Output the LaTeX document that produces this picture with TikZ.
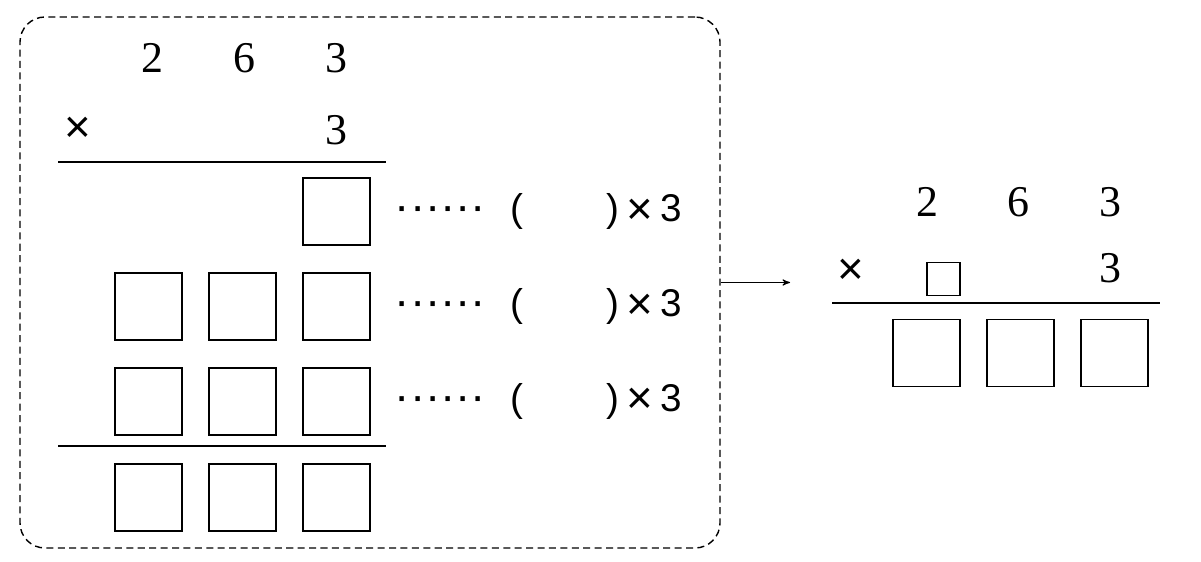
\documentclass[tikz,border=0pt]{standalone}
\usepackage{fontspec}
\setmainfont{Liberation Serif}
\setsansfont{Liberation Sans}
\usetikzlibrary{arrows,positioning}
\tikzset{cell/.style={rectangle,draw=black,line width=1.1pt,minimum size=13.4mm,inner sep=0pt},
		smallcell/.style={rectangle,draw=black,line width=1.1pt,minimum size=6.6mm,inner sep=0pt},
		digit/.style={inner sep=0pt,font=\fontsize{25}{25}\selectfont},
		sign/.style={inner sep=0pt,font=\sffamily\fontsize{22}{22}\selectfont},
		post/.style={->,shorten <=0pt,>=stealth',semithick}}
\newcommand{\mtimes}{\raisebox{-1.5pt}{\fontsize{26}{26}\selectfont ×}}
\newcommand{\sixdots}{\vphantom{(}\makebox[17.7mm][s]{\fontsize{26}{26}\selectfont·\hfill·\hfill·\hfill·\hfill·\hfill·}}

\begin{document}
\begin{tikzpicture}[node distance=5.2mm and 5mm,
		frame/.style={rectangle,draw=black,line width=0.8pt,dash pattern=on 4pt off 2.5pt,rounded corners=5mm,minimum width=140mm,minimum height=106.2mm,inner sep=0pt},
		rule/.style={line width=1pt}]
	\useasboundingbox (0,0) rectangle (24.02,11.24);
	\node[frame] (frame) at (7.4,5.59) {};
	
	% factors
	\node[digit] (top-2) at (3.05,10.08) {2};
	\node[digit] (top-6) at (4.89,10.08) {6};
	\node[digit] (top-3) at (6.73,10.08) {3};
	\node[sign] (times) at (1.55,8.64) {\mtimes};
	\node[digit] (factor-3) at (6.73,8.64) {3};
	\draw[rule] (1.16,8.0) -- (7.72,8.0);
	
	% partial products
	\node[cell] (r1c3) at (6.73,7.01) {};
	\node[cell] (r2c3) [below=of r1c3] {};
	\node[cell] (r2c2) [left=of r2c3] {};
	\node[cell] (r2c1) [left=of r2c2] {};
	\node[cell] (r3c3) [below=of r2c3] {};
	\node[cell] (r3c2) [left=of r3c3] {};
	\node[cell] (r3c1) [left=of r3c2] {};
	\draw[rule] (1.16,2.32) -- (7.72,2.32);
	\node[cell] (r4c3) [below=5.4mm of r3c3] {};
	\node[cell] (r4c2) [left=of r4c3] {};
	\node[cell] (r4c1) [left=of r4c2] {};
	
	\node[sign] (dots-1) [right=4.7mm of r1c3] {\sixdots};
	\node[sign] (mult-1) [right=5.3mm of dots-1] {(\hspace{16.6mm})\hspace{1.5mm}\mtimes\hspace{1.5mm}3};
	\node[sign] (dots-2) [right=4.7mm of r2c3] {\sixdots};
	\node[sign] (mult-2) [right=5.3mm of dots-2] {(\hspace{16.6mm})\hspace{1.5mm}\mtimes\hspace{1.5mm}3};
	\node[sign] (dots-3) [right=4.7mm of r3c3] {\sixdots};
	\node[sign] (mult-3) [right=5.3mm of dots-3] {(\hspace{16.6mm})\hspace{1.5mm}\mtimes\hspace{1.5mm}3};
	
	\coordinate (arrow-end) at (15.8,5.59);
	\draw[post] (frame.east) -- (arrow-end);
	
	% result
	\node[digit] (res-2) at (18.55,7.2) {2};
	\node[digit] (res-6) at (20.37,7.2) {6};
	\node[digit] (res-3) at (22.2,7.2) {3};
	\node[sign] (res-times) at (17.02,5.8) {\mtimes};
	\node[smallcell] (res-cell) at (18.87,5.66) {};
	\node[digit] (res-factor) at (22.2,5.88) {3};
	\draw[rule] (16.64,5.18) -- (23.2,5.18);
	\node[cell] (s1) at (18.53,4.18) {};
	\node[cell] (s2) [right=of s1] {};
	\node[cell] (s3) [right=of s2] {};
\end{tikzpicture}
\end{document}
